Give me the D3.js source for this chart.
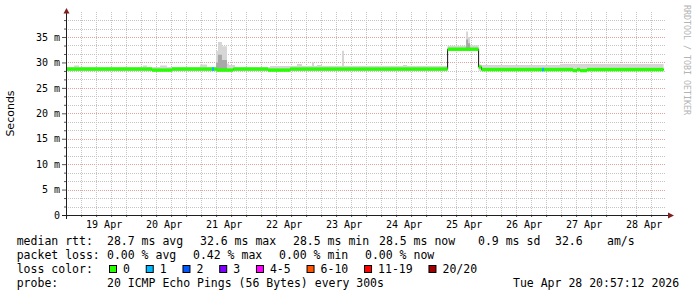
<!DOCTYPE html>
<html>
<head>
<meta charset="utf-8">
<script src="https://cdn.jsdelivr.net/npm/d3@7"></script>
<style>
    html, body { margin: 0; padding: 0; background: #fff; }
    svg { display: block; }
</style>
</head>
<body>
<svg id="chart" width="697" height="297"></svg>
<script>
'use strict';

// ── Data ───────────────────────────────────────────────────

const yTicks      = [0, 5, 10, 15, 20, 25, 30, 35];
const yTickLabels = ['0', '5 m', '10 m', '15 m', '20 m', '25 m', '30 m', '35 m'];
const dayLabels   = ['19 Apr', '20 Apr', '21 Apr', '22 Apr', '23 Apr', '24 Apr', '25 Apr', '26 Apr', '27 Apr', '28 Apr'];

// median rtt (ms), step function: value holds until next time; last entry = end of data
const medianTimes  = ['04-18 21:00', '04-20 07:20', '04-20 15:20', '04-21 09:20', '04-21 15:50', '04-22 05:45',
                      '04-22 14:35', '04-25 05:36', '04-25 18:00', '04-25 19:10', '04-27 07:45', '04-27 09:20',
                      '04-27 10:35', '04-27 13:20', '04-28 20:00'];
const medianValues = [28.7, 28.5, 28.7, 28.5, 28.7, 28.5,
                      28.7, 32.6, 29.1, 28.6, 28.4, 28.6,
                      28.4, 28.6, 28.6];

// packets lost (out of 20)
const lossStart = ['04-21 07:20', '04-26 19:20'];
const lossEnd   = ['04-21 08:10', '04-26 20:10'];
const lossCount = [1, 1];

// smoke: min / inner / max ping (ms), step function
const smokeTimes = ['04-18 21:00', '04-19 00:10', '04-19 02:10', '04-20 03:45', '04-20 05:20', '04-20 10:35',
                    '04-20 13:20', '04-21 02:35', '04-21 05:20', '04-21 09:00', '04-21 09:45', '04-21 11:20',
                    '04-21 13:20', '04-21 14:10', '04-21 16:35', '04-22 06:35', '04-22 17:20', '04-22 19:20',
                    '04-22 23:20', '04-23 00:10', '04-23 01:20', '04-23 03:20', '04-23 11:20', '04-23 12:10',
                    '04-24 11:45', '04-24 13:20', '04-25 05:36', '04-25 13:00', '04-25 13:45', '04-25 14:35',
                    '04-25 18:00', '04-25 19:10', '04-27 02:35', '04-28 20:00'];
const smokeLo    = [28.3, 28.3, 28.3, 28.3, 28.3, 28.3,
                    28.3, 28.3, 28.3, 28.3, 28.3, 28.3,
                    28.3, 28.3, 28.3, 28.3, 28.3, 28.3,
                    28.3, 28.3, 28.3, 28.3, 28.3, 28.3,
                    28.3, 28.3, 32.3, 32.3, 32.3, 32.3,
                    28.3, 28.3, 28.3, 28.3];
const smokeMid   = [28.3, 28.3, 28.3, 28.3, 28.3, 28.3,
                    28.3, 28.3, 28.3, 30.0, 31.5, 30.5,
                    28.3, 28.3, 28.3, 28.3, 28.3, 28.3,
                    28.3, 28.3, 28.3, 28.3, 28.3, 28.3,
                    28.3, 28.3, 32.3, 34.5, 33.8, 32.3,
                    28.3, 28.3, 28.3, 28.3];
const smokeHi    = [29.1, 29.4, 29.1, 29.4, 29.1, 29.4,
                    29.1, 29.6, 29.1, 32.3, 34.0, 33.2,
                    29.8, 29.5, 29.1, 29.3, 29.7, 29.3,
                    30.0, 29.3, 29.5, 29.3, 32.3, 29.3,
                    29.5, 29.3, 33.3, 36.1, 35.0, 33.4,
                    29.6, 29.5, 29.7, 29.7];

const lossLabels = ['0', '1', '2', '3', '4-5', '6-10', '11-19', '20/20'];
const lossLimits = [0, 1, 2, 3, 5, 10, 19, 20];
const lossColors = ['#26ff00', '#00b8ff', '#0059ff', '#7e00ff', '#ff00ff', '#ff5500', '#ff0000', '#a10000'];

const rttStats  = ['28.7 ms avg', '32.6 ms max', '28.5 ms min', '28.5 ms now', '0.9 ms sd', '32.6', 'am/s'];
const lossStats = ['0.00 % avg', '0.42 % max', '0.00 % min', '0.00 % now'];
const probeText = '20 ICMP Echo Pings (56 Bytes) every 300s';
const stampText = 'Tue Apr 28 20:57:12 2026';

// ── Render ────────────────────────────────────────────────

(function () {
    const MONO = '"DejaVu Sans Mono", monospace';
    const parseFull  = d3.utcParse('%Y-%m-%d %H:%M:%S');
    const parseShort = d3.utcParse('%Y-%m-%d %H:%M');
    const T = s => parseShort('2026-' + s);

    const tStart = parseFull('2026-04-18 20:57:12');
    const tEnd   = parseFull('2026-04-28 20:57:12');

    const x = d3.scaleUtc().domain([tStart, tEnd]).range([66, 666]);
    const y = d3.scaleLinear().domain([0, 40]).range([215, 11.6]);

    const svg = d3.select('#chart');
    svg.append('rect').attr('width', 697).attr('height', 297).attr('fill', '#fff');

    // ── Grid ──────────────────────────────────────────
    const grid = svg.append('g').attr('shape-rendering', 'crispEdges');
    const hVals = d3.range(1, 24).map(k => ({ v: k * 5 / 3, major: k % 3 === 0 }));
    grid.selectAll('.hgrid')
        .data(hVals)
        .join('line')
        .attr('x1', 66).attr('x2', 666)
        .attr('y1', d => Math.round(y(d.v)) + 0.5)
        .attr('y2', d => Math.round(y(d.v)) + 0.5)
        .attr('stroke', d => d.major ? '#e6a2a2' : '#c4c4c4')
        .attr('stroke-dasharray', '1,1');

    const vVals = d3.utcHours(tStart, tEnd, 6).map(t => ({ t, major: t.getUTCHours() === 0 }));
    grid.selectAll('.vgrid')
        .data(vVals)
        .join('line')
        .attr('x1', d => Math.floor(x(d.t)) + 0.5)
        .attr('x2', d => Math.floor(x(d.t)) + 0.5)
        .attr('y1', 12).attr('y2', 215)
        .attr('stroke', d => d.major ? '#e6a2a2' : '#c4c4c4')
        .attr('stroke-dasharray', '1,1');

    // ── Smoke ─────────────────────────────────────────
    const smoke = smokeTimes.map((t, i) => ({ t: T(t), lo: smokeLo[i], mid: smokeMid[i], hi: smokeHi[i] }));
    svg.append('path')
        .datum(smoke)
        .attr('fill', '#d6d6d6')
        .attr('d', d3.area().curve(d3.curveStepAfter)
            .x(d => x(d.t)).y0(d => y(d.lo)).y1(d => y(d.hi)));
    svg.append('path')
        .datum(smoke)
        .attr('fill', '#a8a8a8')
        .attr('d', d3.area().curve(d3.curveStepAfter)
            .x(d => x(d.t)).y0(d => y(d.lo)).y1(d => y(d.mid)));

    // ── Median ────────────────────────────────────────
    const median = medianTimes.map((t, i) => ({ t: T(t), v: medianValues[i] }));
    svg.append('path')
        .datum(median)
        .attr('fill', 'none')
        .attr('stroke', '#111')
        .attr('stroke-width', 1)
        .attr('d', d3.line().curve(d3.curveStepAfter).x(d => x(d.t)).y(d => y(d.v)));

    const BAND = 3.4;
    svg.selectAll('.band')
        .data(median.slice(0, -1).map((d, i) => ({ t0: d.t, t1: median[i + 1].t, v: d.v })))
        .join('rect')
        .attr('x', d => x(d.t0))
        .attr('width', d => x(d.t1) - x(d.t0))
        .attr('y', d => y(d.v) - BAND / 2)
        .attr('height', BAND)
        .attr('fill', lossColors[0]);

    const bis = d3.bisector(d => d.t).right;
    const lossIdx = n => lossLimits.findIndex(l => n <= l);
    svg.selectAll('.loss')
        .data(lossStart.map((s, i) => ({ t0: T(s), t1: T(lossEnd[i]), n: lossCount[i] })))
        .join('rect')
        .attr('x', d => x(d.t0))
        .attr('width', d => x(d.t1) - x(d.t0))
        .attr('y', d => y(median[bis(median, d.t0) - 1].v) - BAND / 2)
        .attr('height', BAND)
        .attr('fill', d => lossColors[lossIdx(d.n)]);

    // ── Axes ──────────────────────────────────────────
    const styleAxis = g => {
        g.select('.domain').remove();
        g.attr('font-family', MONO).attr('font-size', 10);
        g.selectAll('line').attr('stroke', '#555');
        g.selectAll('text').attr('fill', '#000');
    };

    svg.append('g')
        .attr('transform', 'translate(66,0)')
        .call(d3.axisLeft(y).tickValues(hVals.filter(d => !d.major).map(d => d.v)).tickSize(2).tickFormat(''))
        .call(styleAxis);
    svg.append('g')
        .attr('transform', 'translate(66,0)')
        .call(d3.axisLeft(y).tickValues(yTicks).tickSize(4).tickPadding(2)
            .tickFormat((d, i) => yTickLabels[i]))
        .call(styleAxis);

    svg.append('g')
        .attr('transform', 'translate(0,215)')
        .call(d3.axisBottom(x).tickValues(vVals.filter(d => !d.major).map(d => d.t)).tickSize(2).tickFormat(''))
        .call(styleAxis);
    svg.append('g')
        .attr('transform', 'translate(0,215)')
        .call(d3.axisBottom(x).tickValues(vVals.filter(d => d.major).map(d => d.t)).tickSize(3).tickFormat(''))
        .call(styleAxis);
    svg.append('g')
        .attr('transform', 'translate(0,215)')
        .call(d3.axisBottom(x).tickValues(d3.utcDays(tStart, tEnd).map(d => d3.utcHour.offset(d, 12)))
            .tickSize(0).tickPadding(6).tickFormat((d, i) => dayLabels[i]))
        .call(styleAxis);

    // axis lines + arrows
    svg.append('line').attr('x1', 66.5).attr('x2', 66.5).attr('y1', 219).attr('y2', 12)
        .attr('stroke', '#1f1f1f').attr('shape-rendering', 'crispEdges');
    svg.append('line').attr('x1', 62).attr('x2', 669).attr('y1', 215.5).attr('y2', 215.5)
        .attr('stroke', '#1f1f1f').attr('shape-rendering', 'crispEdges');
    svg.append('path').attr('d', 'M63.5,13.5 L69.5,13.5 L66.5,8 Z').attr('fill', '#801f1f');
    svg.append('path').attr('d', 'M668,212.5 L668,218.5 L674,215.5 Z').attr('fill', '#801f1f');

    // ── Titles ────────────────────────────────────────
    svg.append('text')
        .attr('transform', 'translate(14,113.5) rotate(-90)')
        .attr('text-anchor', 'middle')
        .attr('font-family', '"DejaVu Sans", sans-serif')
        .attr('font-size', 11)
        .attr('fill', '#000')
        .text('Seconds');

    svg.append('text')
        .attr('transform', 'translate(684,5) rotate(90)')
        .attr('font-family', MONO)
        .attr('font-size', 8.3)
        .attr('fill', '#b4b4b4')
        .text('RRDTOOL / TOBI OETIKER');

    // ── Legend rows ───────────────────────────────────
    const legend = svg.append('g').attr('font-family', MONO).attr('font-size', 11.5).attr('fill', '#000');
    const put = (txt, px, py) => legend.append('text').attr('x', px).attr('y', py).text(txt);

    put('median rtt:', 16.7, 245);
    [107, 200, 293, 379, 478, 555, 607].forEach((px, i) => put(rttStats[i], px, 245));

    put('packet loss:', 16.7, 259);
    [107, 193, 279, 365].forEach((px, i) => put(lossStats[i], px, 259));

    put('loss color:', 16.7, 273);
    let lx = 109;
    lossLabels.forEach((lab, i) => {
        legend.append('rect')
            .attr('x', lx + 0.5).attr('y', 265.5)
            .attr('width', 7).attr('height', 7)
            .attr('fill', lossColors[i])
            .attr('stroke', '#000').attr('stroke-width', 1);
        const t = put(lab, lx + 14, 273);
        lx = lx + 14 + t.node().getComputedTextLength() + 15.8;
    });

    put('probe:', 16.7, 287);
    put(probeText, 107, 287);
    put(stampText, 513, 287);
})();
</script>
</body>
</html>
